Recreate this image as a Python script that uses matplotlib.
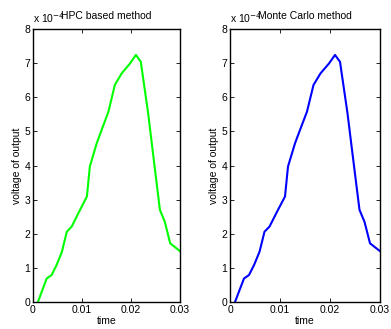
import matplotlib
matplotlib.use("Agg")
import matplotlib.pyplot as plt

plt.rcParams['font.family'] = ['Liberation Sans', 'DejaVu Sans']

t = [0.001, 0.0028, 0.0038, 0.0048, 0.0059, 0.0069, 0.0079, 0.0096, 0.0110, 0.0116,
     0.0130, 0.0140, 0.0154, 0.0167, 0.0181, 0.0198, 0.0210, 0.0220, 0.0235, 0.0249,
     0.0259, 0.0269, 0.0280, 0.0300]
y_hpc = [0.0, 0.69, 0.79, 1.08, 1.47, 2.06, 2.21, 2.70, 3.09, 3.97,
         4.65, 5.04, 5.58, 6.36, 6.70, 6.99, 7.24, 7.04, 5.53, 3.87,
         2.70, 2.35, 1.72, 1.49]
y_mc = [0.0, 0.69, 0.79, 1.08, 1.47, 2.06, 2.21, 2.70, 3.09, 3.97,
        4.65, 5.04, 5.58, 6.36, 6.70, 6.99, 7.24, 7.04, 5.53, 3.87,
        2.70, 2.35, 1.72, 1.49]
titles = ["HPC based method", "Monte Carlo method"]
colors = ["#00ff00", "#0000ff"]
xticks = [0, 0.01, 0.02, 0.03]
xticklabels = ["0", "0.01", "0.02", "0.03"]
yticks = [0, 1, 2, 3, 4, 5, 6, 7, 8]

W, H = 391, 329
fig = plt.figure(figsize=(W / 100, H / 100), dpi=100)
boxes = [(33, 180), (230, 380)]
top, bottom = 29, 302
fs = 7.5
for (l, r), ys, title, c in zip(boxes, [y_hpc, y_mc], titles, colors):
    ax = fig.add_axes([l / W, 1 - bottom / H, (r - l) / W, (bottom - top) / H])
    ax.plot(t, ys, color=c, linewidth=1.5)
    ax.set_xlim(0, 0.03)
    ax.set_ylim(0, 8)
    ax.set_xticks(xticks)
    ax.set_xticklabels(xticklabels)
    ax.set_yticks(yticks)
    ax.tick_params(direction='in', top=True, right=True, labelsize=fs, length=3, width=0.6, pad=2)
    for s in ax.spines.values():
        s.set_linewidth(1.0)
    ax.set_xlabel("time", fontsize=fs, labelpad=1)
    ax.set_ylabel("voltage of output", fontsize=fs, labelpad=2)
    ax.set_title(title, fontsize=fs, pad=7)
    ax.text(0.0, 1.015, "x 10$^{-4}$", transform=ax.transAxes, fontsize=fs,
            ha='left', va='bottom')

fig.savefig("out.png", dpi=100)
